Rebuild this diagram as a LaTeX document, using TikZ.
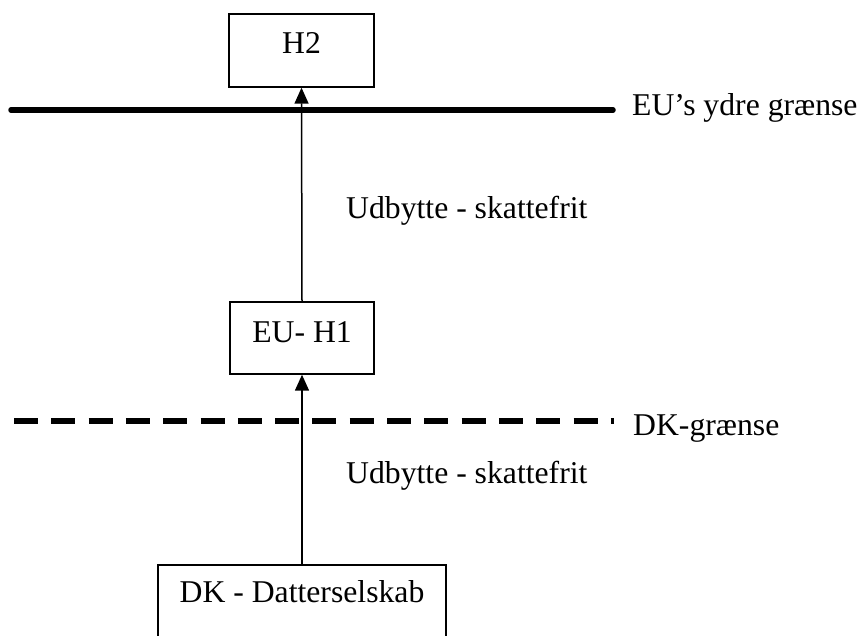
\documentclass[tikz,border=0pt]{standalone}
\usepackage{fontspec}
\setmainfont{Liberation Serif}
\usetikzlibrary{arrows.meta}
\begin{document}
\begin{tikzpicture}[x=1pt,y=-1pt,
  every node/.style={font=\fontsize{31.7}{36}\selectfont},
  box/.style={draw,line width=1.4pt,inner sep=0pt,align=center},
  arr/.style={line width=1.5pt,-{Triangle[length=16pt,width=14pt]}},
  border/.style={line width=5.5pt},
  txt/.style={inner sep=0pt,anchor=base west}]
\useasboundingbox (0,0) rectangle (865,635);
\clip (0,0) rectangle (865,635);
\node[box,minimum width=145pt,text height=39pt,text depth=34pt] (h2) at (301.5,50.5) {H2};
\node[box,minimum width=144pt,text height=40pt,text depth=32pt] (h1) at (302,338) {EU- H1};
\node[box,minimum width=288pt,text height=37pt,text depth=80pt] (dk) at (302,623.5) {DK - Datterselskab};
\coordinate (eua) at (11,110);
\coordinate (eub) at (613,110);
\coordinate (dka) at (14,421);
\coordinate (dkb) at (614,421);
\draw[border,line cap=round] (eua) -- (eub);
\draw[border,dash pattern=on 24pt off 13.3pt] (dka) -- (dkb);
\draw[arr] (dk.north) -- (h1.south);
\draw[arr] (h1.north) -- (h2.south);
\node[txt] (eulbl) at (632,115) {EU’s ydre grænse};
\node[txt] (dklbl) at (633,435) {DK-grænse};
\node[txt] (u1) at (346,218) {Udbytte - skattefrit};
\node[txt] (u2) at (346,483) {Udbytte - skattefrit};
\end{tikzpicture}
\end{document}
